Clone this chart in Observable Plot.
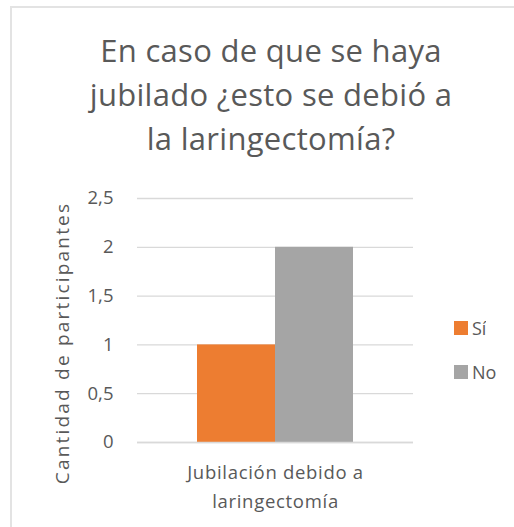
<!DOCTYPE html>
<html>
<head>
<meta charset="utf-8">
<script src="https://cdn.jsdelivr.net/npm/d3@7"></script>
<script src="https://cdn.jsdelivr.net/npm/@observablehq/plot@0.6"></script>
<style>
  html, body { margin: 0; padding: 0; background: #fff; }
  body { width: 514px; height: 527px; position: relative; overflow: hidden; font-family: "Open Sans", sans-serif; color: #595959; }
  #frame { position: absolute; left: 10px; top: 6px; width: 520px; height: 540px; border-left: 2px solid #e3e3e3; border-top: 2px solid #e3e3e3; }
  #title { position: absolute; left: 0; width: 542px; top: 28px; text-align: center; font-size: 31px; line-height: 44px; color: #595959; letter-spacing: 0.3px; }
  #ytitle { position: absolute; left: 62px; top: 343px; transform: translate(-50%, -50%) rotate(-90deg); white-space: nowrap; font-size: 19px; letter-spacing: 2.2px; color: #595959; }
  #chart { position: absolute; left: 0; top: 180px; }
  #legend { position: absolute; left: 454px; top: 314px; }
  .lg-swatch { font-size: 18px; color: #595959; margin: 0 0 15px 0 !important; line-height: 28px; }
  .lg-swatch svg { margin-right: 4px !important; }
  .fxlab text { letter-spacing: 0.7px; }
</style>
</head>
<body>
<div id="frame"></div>
<div id="title">En caso de que se haya<br>jubilado ¿esto se debió a<br>la laringectomía?</div>
<div id="ytitle">Cantidad de participantes</div>
<div id="chart"></div>
<div id="legend"></div>
<script>
const categories = ["Jubilación debido a\nlaringectomía"];
const series = ["Sí", "No"];
const valuesSi = [1];
const valuesNo = [2];
const colors = ["#ED7D31", "#A5A5A5"];
const yTicks = [0, 0.5, 1, 1.5, 2, 2.5];
const yTickLabels = ["0", "0,5", "1", "1,5", "2", "2,5"];

const data = [];
categories.forEach((c, i) => {
  data.push({category: c, series: series[0], value: valuesSi[i]});
  data.push({category: c, series: series[1], value: valuesNo[i]});
});

const plot = Plot.plot({
  width: 514,
  height: 340,
  marginLeft: 137,
  marginRight: 101,
  marginTop: 18,
  marginBottom: 78,
  style: {fontFamily: "Open Sans, sans-serif", fontSize: "18px", color: "#595959", background: "transparent"},
  fx: {domain: categories, padding: 0, label: null},
  x: {domain: series, paddingInner: 0, paddingOuter: 0.758, axis: null},
  y: {domain: [0, 2.5], ticks: yTicks, label: null},
  color: {domain: series, range: colors},
  marks: [
    Plot.gridY(yTicks, {stroke: "#d9d9d9", strokeOpacity: 1, strokeWidth: 1.3}),
    Plot.barY(data, {fx: "category", x: "series", y: "value", fill: "series"}),
    Plot.ruleY([0], {stroke: "#d9d9d9", strokeWidth: 1.5}),
    Plot.axisY(yTicks, {tickSize: 0, tickPadding: 24, tickFormat: (d) => yTickLabels[yTicks.indexOf(d)], fill: "#595959", fontSize: 18.5, label: null}),
    Plot.axisFx({anchor: "bottom", tickSize: 0, tickPadding: 15, lineHeight: 1.6, fill: "#595959", fontSize: 18.5, className: "fxlab", label: null})
  ]
});
document.getElementById("chart").appendChild(plot);

const lg = Plot.legend({
  color: {domain: series, range: colors},
  legend: "swatches",
  columns: 1,
  swatchSize: 14,
  className: "lg",
  style: {fontFamily: "Open Sans, sans-serif", fontSize: "18px", color: "#595959"}
});
document.getElementById("legend").appendChild(lg);
</script>
</body>
</html>
